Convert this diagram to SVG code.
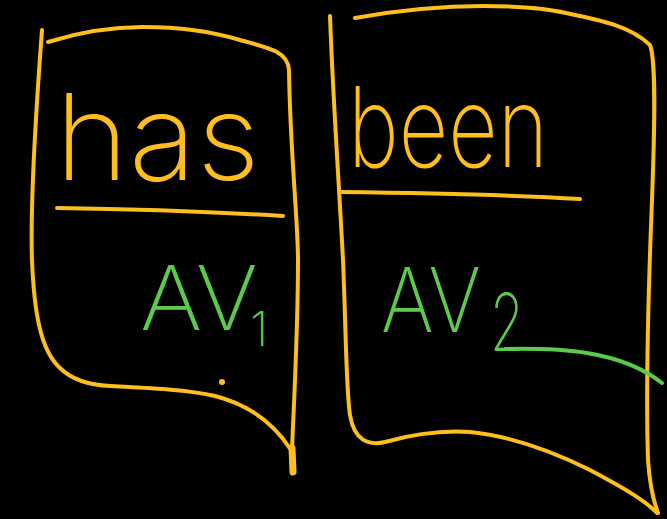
<svg xmlns="http://www.w3.org/2000/svg" width="667" height="519" viewBox="0 0 667 519">
<style>
.ink{fill:none;stroke:#FDBE1E;stroke-width:4;stroke-linecap:round;stroke-linejoin:round}
.grn{fill:none;stroke:#5CCB4C;stroke-width:4;stroke-linecap:round}
.word{fill:#FDBE1E;font-family:Inter,"Open Sans","Liberation Sans",sans-serif;font-weight:200}
.av{fill:#5CCB4C;font-family:Inter,"Open Sans","Liberation Sans",sans-serif;font-weight:200}
</style>
<rect width="667" height="519" fill="#000"/>
<g id="box-has">
<path class="ink" d="M42,30 C36,110 30,200 32,260 C34,310 40,350 60,368 C72,380 90,385 110,386 C150,388 190,390 215,396 C250,405 275,425 291,450"/>
<path class="ink" d="M48,42 C80,32 110,27 143,27 C180,27 210,31 240,40 C270,48 288,52 289,70 C290,150 298,220 298,260 C298,330 294,400 292,450"/>
<path d="M292,448 L293,472" stroke="#FDBE1E" stroke-width="7" stroke-linecap="round"/>
<path class="ink" d="M57,208 C130,209 200,211 283,216"/>
<circle cx="222" cy="382" r="3" fill="#FDBE1E"/>
<text class="word" x="55" y="180" font-size="120" textLength="205" lengthAdjust="spacingAndGlyphs">has</text>
<text class="av" x="140" y="330" font-size="90" textLength="118" lengthAdjust="spacingAndGlyphs">AV</text>
<text class="av" x="250" y="346" font-size="48">1</text>
</g>
<g id="box-been">
<path class="ink" d="M330,16 C333,100 340,200 343,260 C346,330 346,390 350,415 C354,440 368,446 385,442 C410,435 440,430 470,432 C510,436 550,450 590,470 C620,486 645,500 657,513"/>
<path class="ink" d="M355,18 C400,10 440,6 483,6 C520,6 545,8 566,13 C600,20 630,26 650,45 C656,60 655,120 652,200 C648,300 646,400 648,460 C650,490 655,505 658,513"/>
<path class="ink" d="M340,192 C420,193 500,194 580,199"/>
<text class="word" x="348" y="167" font-size="112" textLength="200" lengthAdjust="spacingAndGlyphs">been</text>
<text class="av" x="381" y="332" font-size="90" textLength="100" lengthAdjust="spacingAndGlyphs">AV</text>
<text class="av" x="490" y="351" font-size="80" textLength="34" lengthAdjust="spacingAndGlyphs">2</text>
<path class="grn" d="M505,349 C560,348 620,350 662,383"/>
</g>
</svg>
